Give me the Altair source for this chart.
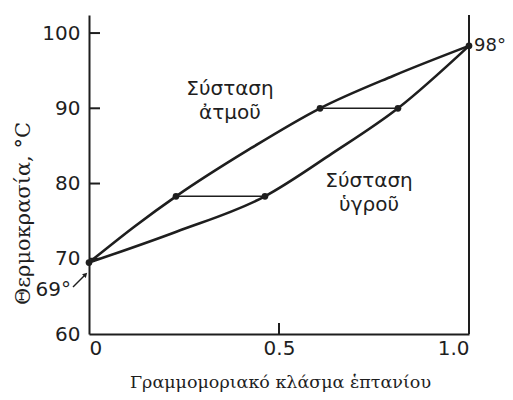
import altair as alt
import pandas as pd

# Vapour (dew-point) curve: mole fraction heptane vs temperature
vapor_x = [0.0, 0.12, 0.229, 0.42, 0.608, 0.80, 1.0]
vapor_T = [69.5, 74.3, 78.3, 84.5, 90.0, 94.3, 98.3]
# Liquid (bubble-point) curve
liquid_x = [0.0, 0.23, 0.463, 0.64, 0.813, 1.0]
liquid_T = [69.5, 73.6, 78.3, 84.0, 90.0, 98.3]
# Tie lines
tie_left = [0.229, 0.608]
tie_right = [0.463, 0.813]
tie_T = [78.3, 90.0]
# Marked points
pt_x = [0.0, 1.0, 0.229, 0.463, 0.608, 0.813]
pt_T = [69.5, 98.3, 78.3, 78.3, 90.0, 90.0]

y_ticks = [60, 70, 80, 90, 100]
x_ticks = [0, 0.5, 1.0]
inner_y_ticks = [70, 80, 90, 100]

W, H = 380, 319
INK = "#1e1e1e"

vap = pd.DataFrame({"x": vapor_x, "T": vapor_T})
liq = pd.DataFrame({"x": liquid_x, "T": liquid_T})
ties = pd.DataFrame({"x": tie_left, "x2": tie_right, "T": tie_T})
pts = pd.DataFrame({"x": pt_x, "T": pt_T})
yt = pd.DataFrame({"T": inner_y_ticks})

xs = alt.Scale(domain=[0, 1], nice=False)
ys = alt.Scale(domain=[60, 102.4], nice=False)

X = alt.X("x:Q", scale=xs, axis=alt.Axis(
    values=x_ticks, title="Γραμμομοριακό κλάσμα ἑπτανίου",
    labelExpr="datum.value == 0 ? '0' : format(datum.value, '.1f')",
    titleX=191, titleY=48, titleBaseline="middle", titleAlign="center",
    titleFont="DejaVu Serif", titleFontSize=17.5))
Y = alt.Y("T:Q", scale=ys, axis=alt.Axis(
    values=y_ticks, title="Θερμοκρασία, °C",
    titleX=-66, titleY=198, titleAngle=270, titleBaseline="middle",
    titleAlign="center", titleFont="DejaVu Serif", titleFontSize=21))

vap_line = alt.Chart(vap).mark_line(interpolate="monotone", strokeWidth=2.6, color=INK).encode(x=X, y=Y)
liq_line = alt.Chart(liq).mark_line(interpolate="monotone", strokeWidth=2.6, color=INK).encode(
    x=alt.X("x:Q", scale=xs), y=alt.Y("T:Q", scale=ys))
tie_rules = alt.Chart(ties).mark_rule(strokeWidth=1.6, color=INK).encode(
    x=alt.X("x:Q", scale=xs), x2="x2:Q", y=alt.Y("T:Q", scale=ys))
points = alt.Chart(pts).mark_circle(size=45, color=INK, opacity=1).encode(
    x=alt.X("x:Q", scale=xs), y=alt.Y("T:Q", scale=ys))

right_rule = alt.Chart(pd.DataFrame({"x": [1.0]})).mark_rule(strokeWidth=2, color=INK).encode(
    x=alt.X("x:Q", scale=xs))
ytick_rules = alt.Chart(yt).mark_rule(strokeWidth=2, color=INK).encode(
    y=alt.Y("T:Q", scale=ys), x=alt.value(0), x2=alt.value(11))
xtick_rule = alt.Chart(pd.DataFrame({"x": [0.5]})).mark_rule(strokeWidth=2, color=INK).encode(
    x=alt.X("x:Q", scale=xs), y=alt.value(H), y2=alt.value(H - 11))

labels = pd.DataFrame({
    "x": [0.371, 0.737],
    "T": [92.6, 80.3],
    "txt": ["Σύσταση\nἀτμοῦ", "Σύσταση\nὑγροῦ"],
})
label_text = alt.Chart(labels).mark_text(
    font="DejaVu Sans", fontSize=20, color=INK, lineBreak="\n", lineHeight=24,
    align="center", baseline="middle").encode(
    x=alt.X("x:Q", scale=xs), y=alt.Y("T:Q", scale=ys), text="txt:N")

t98 = alt.Chart(pd.DataFrame({"x": [1.0], "T": [98.3], "txt": ["98°"]})).mark_text(
    font="DejaVu Sans", fontSize=18, color=INK, align="left", baseline="middle", dx=5).encode(
    x=alt.X("x:Q", scale=xs), y=alt.Y("T:Q", scale=ys), text="txt:N")
t69 = alt.Chart(pd.DataFrame({"x": [0.0], "T": [65.8], "txt": ["69°"]})).mark_text(
    font="DejaVu Sans", fontSize=20, color=INK, align="right", baseline="middle", dx=-18).encode(
    x=alt.X("x:Q", scale=xs), y=alt.Y("T:Q", scale=ys), text="txt:N")

arrow_shaft = alt.Chart(pd.DataFrame({"a": [0]})).mark_rule(strokeWidth=1.5, color=INK).encode(
    x=alt.value(-16), x2=alt.value(-4), y=alt.value(272), y2=alt.value(260))
arrow_head = alt.Chart(pd.DataFrame({"a": [0]})).mark_point(
    shape="triangle", filled=True, size=28, angle=45, color=INK, opacity=1).encode(
    x=alt.value(-4), y=alt.value(260))

chart = alt.layer(
    right_rule, ytick_rules, xtick_rule, tie_rules, vap_line, liq_line, points,
    label_text, t98, t69, arrow_shaft, arrow_head,
).properties(
    width=W, height=H,
    autosize=alt.AutoSizeParams(type="none"),
    padding={"left": 81, "top": 7, "right": 36, "bottom": 58},
).configure_view(stroke=None).configure_axis(
    grid=False, ticks=False, domainColor=INK, domainWidth=2,
    labelFont="DejaVu Sans", labelFontSize=20, labelColor=INK,
    titleFontWeight="normal", titleColor=INK,
).configure_axisY(labelPadding=9).configure_axisX(labelPadding=4)

chart.save("out.html", embed_options={"renderer": "svg", "actions": False})
